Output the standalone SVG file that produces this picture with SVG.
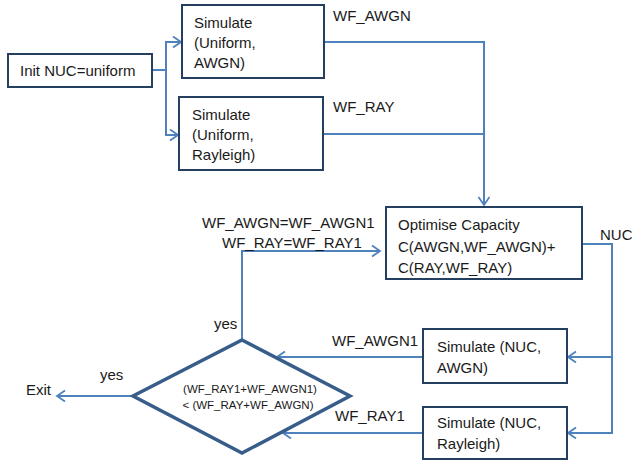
<svg xmlns="http://www.w3.org/2000/svg" width="632" height="461" viewBox="0 0 632 461">
<style>
.box{fill:#fff;stroke:#243F60;stroke-width:2}
.dia{fill:#fff;stroke:#385D8A;stroke-width:3.5;stroke-linejoin:miter}
.c{fill:none;stroke:#4F81BD;stroke-width:2}
text{font-family:"Liberation Sans",Arial,sans-serif;font-size:15px;fill:#1a1a1a}
.s{font-size:11.5px}
</style>
<defs>
<marker id="a" markerUnits="userSpaceOnUse" markerWidth="12" markerHeight="14" refX="9" refY="6" orient="auto">
<path d="M1,0.5 L9,6 L1,11.5" fill="none" stroke="#4F81BD" stroke-width="1.8"/>
</marker>
</defs>
<rect width="632" height="461" fill="#fff"/>
<g id="connectors">
<polyline class="c" points="152,70 166,70"/>
<polyline class="c" points="180,42 166,42 166,135 178,135" marker-end="url(#a)"/>
<polyline class="c" points="166,42 181,42" marker-end="url(#a)"/>
<polyline class="c" points="324,42 484,42 484,205" marker-end="url(#a)"/>
<polyline class="c" points="323,134 484,134"/>
<polyline class="c" points="582,244 612,244 612,433 568,433" marker-end="url(#a)"/>
<polyline class="c" points="612,357 568,357" marker-end="url(#a)"/>
<polyline class="c" points="423,357 277,357" marker-end="url(#a)"/>
<polyline class="c" points="423,433 283,433" marker-end="url(#a)"/>
<polyline class="c" points="242,340 242,251 380,251" marker-end="url(#a)"/>
<polyline class="c" points="133,396 57,396" marker-end="url(#a)"/>
<text x="333" y="21">WF_AWGN</text>
<text x="333" y="112">WF_RAY</text>
<text x="202" y="228">WF_AWGN=WF_AWGN1</text>
<text x="222" y="248">WF_RAY=WF_RAY1</text>
<text x="600" y="240">NUC</text>
<text x="332" y="346">WF_AWGN1</text>
<text x="335" y="421">WF_RAY1</text>
<text x="214" y="329">yes</text>
<text x="100" y="380">yes</text>
<text x="26" y="395">Exit</text>
</g>
<g id="init">
<rect class="box" x="8" y="54" width="144" height="33"/>
<text x="20" y="76">Init NUC=uniform</text>
</g>
<g id="sim-uniform-awgn">
<rect class="box" x="182" y="5" width="142" height="73"/>
<text x="194" y="28">Simulate</text>
<text x="194" y="48">(Uniform,</text>
<text x="194" y="68">AWGN)</text>
</g>
<g id="sim-uniform-rayleigh">
<rect class="box" x="179" y="97" width="144" height="73"/>
<text x="192" y="120">Simulate</text>
<text x="192" y="140">(Uniform,</text>
<text x="192" y="160">Rayleigh)</text>
</g>
<g id="optimise">
<rect class="box" x="386" y="207" width="196" height="72"/>
<text x="398" y="230">Optimise Capacity</text>
<text x="398" y="252">C(AWGN,WF_AWGN)+</text>
<text x="398" y="273">C(RAY,WF_RAY)</text>
</g>
<g id="sim-nuc-awgn">
<rect class="box" x="423" y="329" width="144" height="54"/>
<text x="437" y="352">Simulate (NUC,</text>
<text x="437" y="373">AWGN)</text>
</g>
<g id="sim-nuc-rayleigh">
<rect class="box" x="423" y="407" width="144" height="52"/>
<text x="437" y="428">Simulate (NUC,</text>
<text x="437" y="449">Rayleigh)</text>
</g>
<g id="decision">
<polygon class="dia" points="242,340 350,396 242,453 133,396"/>
<text class="s" x="250" y="393" text-anchor="middle">(WF_RAY1+WF_AWGN1)</text>
<text class="s" x="248" y="409" text-anchor="middle">&lt; (WF_RAY+WF_AWGN)</text>
</g>
</svg>
